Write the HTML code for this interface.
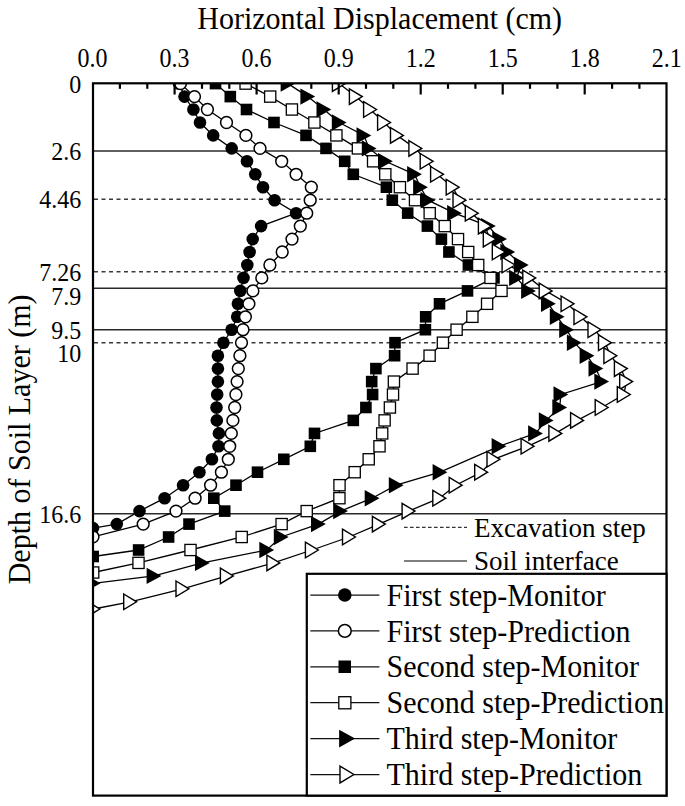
<!DOCTYPE html><html><head><meta charset="utf-8"><style>html,body{margin:0;padding:0;background:#fff;}svg{display:block;}text{font-family:"Liberation Serif",serif;fill:#000;}</style></head><body>
<svg width="685" height="806" viewBox="0 0 685 806">
<rect width="685" height="806" fill="#fff"/>
<defs><clipPath id="pc"><rect x="93" y="83.6" width="573.5" height="712"/></clipPath></defs>
<text transform="translate(379.7,28.8) scale(1,1.045)" font-size="30" text-anchor="middle">Horizontal Displacement (cm)</text>
<text transform="translate(92.6,66.7) scale(1,1.12)" font-size="24" text-anchor="middle">0.0</text>
<text transform="translate(174.6,66.7) scale(1,1.12)" font-size="24" text-anchor="middle">0.3</text>
<text transform="translate(256.6,66.7) scale(1,1.12)" font-size="24" text-anchor="middle">0.6</text>
<text transform="translate(338.7,66.7) scale(1,1.12)" font-size="24" text-anchor="middle">0.9</text>
<text transform="translate(420.7,66.7) scale(1,1.12)" font-size="24" text-anchor="middle">1.2</text>
<text transform="translate(502.7,66.7) scale(1,1.12)" font-size="24" text-anchor="middle">1.5</text>
<text transform="translate(584.7,66.7) scale(1,1.12)" font-size="24" text-anchor="middle">1.8</text>
<text transform="translate(666.7,66.7) scale(1,1.12)" font-size="24" text-anchor="middle">2.1</text>
<text transform="translate(81.3,92.5) scale(1,1.08)" font-size="24" text-anchor="end">0</text>
<text transform="translate(81.3,159.9) scale(1,1.08)" font-size="24" text-anchor="end">2.6</text>
<text transform="translate(81.3,208.1) scale(1,1.08)" font-size="24" text-anchor="end">4.46</text>
<text transform="translate(81.3,280.8) scale(1,1.08)" font-size="24" text-anchor="end">7.26</text>
<text transform="translate(81.3,305.2) scale(1,1.08)" font-size="24" text-anchor="end">7.9</text>
<text transform="translate(81.3,338.9) scale(1,1.08)" font-size="24" text-anchor="end">9.5</text>
<text transform="translate(81.3,361.7) scale(1,1.08)" font-size="24" text-anchor="end">10</text>
<text transform="translate(81.3,522.6) scale(1,1.08)" font-size="24" text-anchor="end">16.6</text>
<text transform="translate(30.2,439.4) rotate(-90) scale(1,1.02)" font-size="30" text-anchor="middle">Depth of Soil Layer (m)</text>
<line x1="94" y1="151.0" x2="666" y2="151.0" stroke="#2a2a2a" stroke-width="1.6"/>
<line x1="94" y1="199.2" x2="666" y2="199.2" stroke="#3a3a3a" stroke-width="1.6" stroke-dasharray="4,3.5"/>
<line x1="94" y1="271.7" x2="666" y2="271.7" stroke="#3a3a3a" stroke-width="1.6" stroke-dasharray="4,3.5"/>
<line x1="94" y1="288.3" x2="666" y2="288.3" stroke="#2a2a2a" stroke-width="1.6"/>
<line x1="94" y1="329.7" x2="666" y2="329.7" stroke="#2a2a2a" stroke-width="1.6"/>
<line x1="94" y1="342.7" x2="666" y2="342.7" stroke="#3a3a3a" stroke-width="1.6" stroke-dasharray="4,3.5"/>
<line x1="94" y1="513.7" x2="666" y2="513.7" stroke="#2a2a2a" stroke-width="1.6"/>
<g clip-path="url(#pc)">
<polyline fill="none" stroke="#000" stroke-width="1.3" points="179.0,83.6 184.5,96.6 193.4,109.5 200.0,122.5 213.2,135.4 231.7,148.4 247.0,161.3 255.3,174.3 263.0,187.2 274.6,200.2 296.1,213.2 261.1,226.1 252.7,239.1 249.6,252.0 247.3,265.0 243.5,277.9 240.3,290.9 237.9,303.8 237.2,316.8 231.6,329.7 223.4,342.7 217.9,355.7 217.9,368.6 217.9,381.6 217.2,394.5 216.5,407.5 216.8,420.4 218.9,433.4 218.5,446.3 211.9,459.3 199.4,472.2 183.1,485.2 164.6,498.2 139.5,511.1 116.8,524.1 93.0,528.1"/>
<circle cx="179.0" cy="83.6" r="6.30" fill="#000"/>
<circle cx="184.5" cy="96.6" r="6.30" fill="#000"/>
<circle cx="193.4" cy="109.5" r="6.30" fill="#000"/>
<circle cx="200.0" cy="122.5" r="6.30" fill="#000"/>
<circle cx="213.2" cy="135.4" r="6.30" fill="#000"/>
<circle cx="231.7" cy="148.4" r="6.30" fill="#000"/>
<circle cx="247.0" cy="161.3" r="6.30" fill="#000"/>
<circle cx="255.3" cy="174.3" r="6.30" fill="#000"/>
<circle cx="263.0" cy="187.2" r="6.30" fill="#000"/>
<circle cx="274.6" cy="200.2" r="6.30" fill="#000"/>
<circle cx="296.1" cy="213.2" r="6.30" fill="#000"/>
<circle cx="261.1" cy="226.1" r="6.30" fill="#000"/>
<circle cx="252.7" cy="239.1" r="6.30" fill="#000"/>
<circle cx="249.6" cy="252.0" r="6.30" fill="#000"/>
<circle cx="247.3" cy="265.0" r="6.30" fill="#000"/>
<circle cx="243.5" cy="277.9" r="6.30" fill="#000"/>
<circle cx="240.3" cy="290.9" r="6.30" fill="#000"/>
<circle cx="237.9" cy="303.8" r="6.30" fill="#000"/>
<circle cx="237.2" cy="316.8" r="6.30" fill="#000"/>
<circle cx="231.6" cy="329.7" r="6.30" fill="#000"/>
<circle cx="223.4" cy="342.7" r="6.30" fill="#000"/>
<circle cx="217.9" cy="355.7" r="6.30" fill="#000"/>
<circle cx="217.9" cy="368.6" r="6.30" fill="#000"/>
<circle cx="217.9" cy="381.6" r="6.30" fill="#000"/>
<circle cx="217.2" cy="394.5" r="6.30" fill="#000"/>
<circle cx="216.5" cy="407.5" r="6.30" fill="#000"/>
<circle cx="216.8" cy="420.4" r="6.30" fill="#000"/>
<circle cx="218.9" cy="433.4" r="6.30" fill="#000"/>
<circle cx="218.5" cy="446.3" r="6.30" fill="#000"/>
<circle cx="211.9" cy="459.3" r="6.30" fill="#000"/>
<circle cx="199.4" cy="472.2" r="6.30" fill="#000"/>
<circle cx="183.1" cy="485.2" r="6.30" fill="#000"/>
<circle cx="164.6" cy="498.2" r="6.30" fill="#000"/>
<circle cx="139.5" cy="511.1" r="6.30" fill="#000"/>
<circle cx="116.8" cy="524.1" r="6.30" fill="#000"/>
<circle cx="93.0" cy="528.1" r="6.30" fill="#000"/>
<polyline fill="none" stroke="#000" stroke-width="1.3" points="180.5,83.6 194.5,96.6 207.4,109.5 226.5,122.5 245.9,135.4 260.0,148.4 281.7,161.3 296.1,174.3 311.3,187.2 310.2,200.2 306.7,213.2 300.3,226.1 292.0,239.1 282.2,252.0 269.9,265.0 261.8,277.9 252.9,290.9 248.9,303.8 245.4,316.8 243.0,329.7 241.5,342.7 239.9,355.7 238.3,368.6 237.1,381.6 235.9,394.5 234.7,407.5 232.9,420.4 231.3,433.4 229.7,446.3 228.3,459.3 221.4,472.2 210.6,485.2 195.1,498.2 176.0,511.1 143.2,524.1 93.0,536.8"/>
<circle cx="180.5" cy="83.6" r="5.90" fill="#fff" stroke="#000" stroke-width="1.5"/>
<circle cx="194.5" cy="96.6" r="5.90" fill="#fff" stroke="#000" stroke-width="1.5"/>
<circle cx="207.4" cy="109.5" r="5.90" fill="#fff" stroke="#000" stroke-width="1.5"/>
<circle cx="226.5" cy="122.5" r="5.90" fill="#fff" stroke="#000" stroke-width="1.5"/>
<circle cx="245.9" cy="135.4" r="5.90" fill="#fff" stroke="#000" stroke-width="1.5"/>
<circle cx="260.0" cy="148.4" r="5.90" fill="#fff" stroke="#000" stroke-width="1.5"/>
<circle cx="281.7" cy="161.3" r="5.90" fill="#fff" stroke="#000" stroke-width="1.5"/>
<circle cx="296.1" cy="174.3" r="5.90" fill="#fff" stroke="#000" stroke-width="1.5"/>
<circle cx="311.3" cy="187.2" r="5.90" fill="#fff" stroke="#000" stroke-width="1.5"/>
<circle cx="310.2" cy="200.2" r="5.90" fill="#fff" stroke="#000" stroke-width="1.5"/>
<circle cx="306.7" cy="213.2" r="5.90" fill="#fff" stroke="#000" stroke-width="1.5"/>
<circle cx="300.3" cy="226.1" r="5.90" fill="#fff" stroke="#000" stroke-width="1.5"/>
<circle cx="292.0" cy="239.1" r="5.90" fill="#fff" stroke="#000" stroke-width="1.5"/>
<circle cx="282.2" cy="252.0" r="5.90" fill="#fff" stroke="#000" stroke-width="1.5"/>
<circle cx="269.9" cy="265.0" r="5.90" fill="#fff" stroke="#000" stroke-width="1.5"/>
<circle cx="261.8" cy="277.9" r="5.90" fill="#fff" stroke="#000" stroke-width="1.5"/>
<circle cx="252.9" cy="290.9" r="5.90" fill="#fff" stroke="#000" stroke-width="1.5"/>
<circle cx="248.9" cy="303.8" r="5.90" fill="#fff" stroke="#000" stroke-width="1.5"/>
<circle cx="245.4" cy="316.8" r="5.90" fill="#fff" stroke="#000" stroke-width="1.5"/>
<circle cx="243.0" cy="329.7" r="5.90" fill="#fff" stroke="#000" stroke-width="1.5"/>
<circle cx="241.5" cy="342.7" r="5.90" fill="#fff" stroke="#000" stroke-width="1.5"/>
<circle cx="239.9" cy="355.7" r="5.90" fill="#fff" stroke="#000" stroke-width="1.5"/>
<circle cx="238.3" cy="368.6" r="5.90" fill="#fff" stroke="#000" stroke-width="1.5"/>
<circle cx="237.1" cy="381.6" r="5.90" fill="#fff" stroke="#000" stroke-width="1.5"/>
<circle cx="235.9" cy="394.5" r="5.90" fill="#fff" stroke="#000" stroke-width="1.5"/>
<circle cx="234.7" cy="407.5" r="5.90" fill="#fff" stroke="#000" stroke-width="1.5"/>
<circle cx="232.9" cy="420.4" r="5.90" fill="#fff" stroke="#000" stroke-width="1.5"/>
<circle cx="231.3" cy="433.4" r="5.90" fill="#fff" stroke="#000" stroke-width="1.5"/>
<circle cx="229.7" cy="446.3" r="5.90" fill="#fff" stroke="#000" stroke-width="1.5"/>
<circle cx="228.3" cy="459.3" r="5.90" fill="#fff" stroke="#000" stroke-width="1.5"/>
<circle cx="221.4" cy="472.2" r="5.90" fill="#fff" stroke="#000" stroke-width="1.5"/>
<circle cx="210.6" cy="485.2" r="5.90" fill="#fff" stroke="#000" stroke-width="1.5"/>
<circle cx="195.1" cy="498.2" r="5.90" fill="#fff" stroke="#000" stroke-width="1.5"/>
<circle cx="176.0" cy="511.1" r="5.90" fill="#fff" stroke="#000" stroke-width="1.5"/>
<circle cx="143.2" cy="524.1" r="5.90" fill="#fff" stroke="#000" stroke-width="1.5"/>
<circle cx="93.0" cy="536.8" r="5.90" fill="#fff" stroke="#000" stroke-width="1.5"/>
<polyline fill="none" stroke="#000" stroke-width="1.3" points="215.5,83.6 230.3,96.6 246.5,109.5 274.0,122.5 306.0,135.4 326.0,148.4 344.7,161.3 353.3,174.3 386.4,187.2 392.3,200.2 407.7,213.2 427.4,226.1 441.4,239.1 448.9,252.0 468.4,265.0 494.0,277.9 467.5,290.9 439.5,303.8 425.7,316.8 425.4,329.7 395.0,342.7 394.6,355.7 375.9,368.6 371.7,381.6 372.6,394.5 365.9,407.5 353.3,420.4 314.5,433.4 310.3,446.3 283.8,459.3 257.5,472.2 236.0,485.2 213.8,498.2 224.7,511.1 189.0,524.1 168.6,537.0 138.6,550.0 93.2,556.5"/>
<rect x="209.7" y="77.8" width="11.6" height="11.6" fill="#000"/>
<rect x="224.5" y="90.8" width="11.6" height="11.6" fill="#000"/>
<rect x="240.7" y="103.7" width="11.6" height="11.6" fill="#000"/>
<rect x="268.2" y="116.7" width="11.6" height="11.6" fill="#000"/>
<rect x="300.2" y="129.6" width="11.6" height="11.6" fill="#000"/>
<rect x="320.2" y="142.6" width="11.6" height="11.6" fill="#000"/>
<rect x="338.9" y="155.5" width="11.6" height="11.6" fill="#000"/>
<rect x="347.5" y="168.5" width="11.6" height="11.6" fill="#000"/>
<rect x="380.6" y="181.4" width="11.6" height="11.6" fill="#000"/>
<rect x="386.5" y="194.4" width="11.6" height="11.6" fill="#000"/>
<rect x="401.9" y="207.3" width="11.6" height="11.6" fill="#000"/>
<rect x="421.6" y="220.3" width="11.6" height="11.6" fill="#000"/>
<rect x="435.6" y="233.3" width="11.6" height="11.6" fill="#000"/>
<rect x="443.1" y="246.2" width="11.6" height="11.6" fill="#000"/>
<rect x="462.6" y="259.2" width="11.6" height="11.6" fill="#000"/>
<rect x="488.2" y="272.1" width="11.6" height="11.6" fill="#000"/>
<rect x="461.7" y="285.1" width="11.6" height="11.6" fill="#000"/>
<rect x="433.7" y="298.0" width="11.6" height="11.6" fill="#000"/>
<rect x="419.9" y="311.0" width="11.6" height="11.6" fill="#000"/>
<rect x="419.6" y="323.9" width="11.6" height="11.6" fill="#000"/>
<rect x="389.2" y="336.9" width="11.6" height="11.6" fill="#000"/>
<rect x="388.8" y="349.9" width="11.6" height="11.6" fill="#000"/>
<rect x="370.1" y="362.8" width="11.6" height="11.6" fill="#000"/>
<rect x="365.9" y="375.8" width="11.6" height="11.6" fill="#000"/>
<rect x="366.8" y="388.7" width="11.6" height="11.6" fill="#000"/>
<rect x="360.1" y="401.7" width="11.6" height="11.6" fill="#000"/>
<rect x="347.5" y="414.6" width="11.6" height="11.6" fill="#000"/>
<rect x="308.7" y="427.6" width="11.6" height="11.6" fill="#000"/>
<rect x="304.5" y="440.5" width="11.6" height="11.6" fill="#000"/>
<rect x="278.0" y="453.5" width="11.6" height="11.6" fill="#000"/>
<rect x="251.7" y="466.4" width="11.6" height="11.6" fill="#000"/>
<rect x="230.2" y="479.4" width="11.6" height="11.6" fill="#000"/>
<rect x="208.0" y="492.4" width="11.6" height="11.6" fill="#000"/>
<rect x="218.9" y="505.3" width="11.6" height="11.6" fill="#000"/>
<rect x="183.2" y="518.3" width="11.6" height="11.6" fill="#000"/>
<rect x="162.8" y="531.2" width="11.6" height="11.6" fill="#000"/>
<rect x="132.8" y="544.2" width="11.6" height="11.6" fill="#000"/>
<rect x="87.4" y="550.7" width="11.6" height="11.6" fill="#000"/>
<polyline fill="none" stroke="#000" stroke-width="1.3" points="245.6,83.6 270.2,96.6 291.9,109.5 314.4,122.5 336.4,135.4 357.9,148.4 373.1,161.3 385.3,174.3 399.9,187.2 415.0,200.2 429.7,213.2 444.8,226.1 458.0,239.1 468.2,252.0 478.2,265.0 490.5,277.9 501.5,290.9 487.1,303.8 472.4,316.8 456.6,329.7 442.9,342.7 429.6,355.7 412.6,368.6 393.9,381.6 393.0,394.5 389.9,407.5 384.6,420.4 382.2,433.4 379.5,446.3 368.7,459.3 354.7,472.2 339.5,485.2 339.4,498.2 306.7,511.1 281.6,524.1 241.7,537.0 190.5,550.0 138.5,562.9 93.2,572.5"/>
<rect x="240.0" y="78.0" width="11.2" height="11.2" fill="#fff" stroke="#000" stroke-width="1.3"/>
<rect x="264.6" y="91.0" width="11.2" height="11.2" fill="#fff" stroke="#000" stroke-width="1.3"/>
<rect x="286.3" y="103.9" width="11.2" height="11.2" fill="#fff" stroke="#000" stroke-width="1.3"/>
<rect x="308.8" y="116.9" width="11.2" height="11.2" fill="#fff" stroke="#000" stroke-width="1.3"/>
<rect x="330.8" y="129.8" width="11.2" height="11.2" fill="#fff" stroke="#000" stroke-width="1.3"/>
<rect x="352.3" y="142.8" width="11.2" height="11.2" fill="#fff" stroke="#000" stroke-width="1.3"/>
<rect x="367.5" y="155.7" width="11.2" height="11.2" fill="#fff" stroke="#000" stroke-width="1.3"/>
<rect x="379.7" y="168.7" width="11.2" height="11.2" fill="#fff" stroke="#000" stroke-width="1.3"/>
<rect x="394.3" y="181.6" width="11.2" height="11.2" fill="#fff" stroke="#000" stroke-width="1.3"/>
<rect x="409.4" y="194.6" width="11.2" height="11.2" fill="#fff" stroke="#000" stroke-width="1.3"/>
<rect x="424.1" y="207.6" width="11.2" height="11.2" fill="#fff" stroke="#000" stroke-width="1.3"/>
<rect x="439.2" y="220.5" width="11.2" height="11.2" fill="#fff" stroke="#000" stroke-width="1.3"/>
<rect x="452.4" y="233.5" width="11.2" height="11.2" fill="#fff" stroke="#000" stroke-width="1.3"/>
<rect x="462.6" y="246.4" width="11.2" height="11.2" fill="#fff" stroke="#000" stroke-width="1.3"/>
<rect x="472.6" y="259.4" width="11.2" height="11.2" fill="#fff" stroke="#000" stroke-width="1.3"/>
<rect x="484.9" y="272.3" width="11.2" height="11.2" fill="#fff" stroke="#000" stroke-width="1.3"/>
<rect x="495.9" y="285.3" width="11.2" height="11.2" fill="#fff" stroke="#000" stroke-width="1.3"/>
<rect x="481.5" y="298.2" width="11.2" height="11.2" fill="#fff" stroke="#000" stroke-width="1.3"/>
<rect x="466.8" y="311.2" width="11.2" height="11.2" fill="#fff" stroke="#000" stroke-width="1.3"/>
<rect x="451.0" y="324.1" width="11.2" height="11.2" fill="#fff" stroke="#000" stroke-width="1.3"/>
<rect x="437.3" y="337.1" width="11.2" height="11.2" fill="#fff" stroke="#000" stroke-width="1.3"/>
<rect x="424.0" y="350.1" width="11.2" height="11.2" fill="#fff" stroke="#000" stroke-width="1.3"/>
<rect x="407.0" y="363.0" width="11.2" height="11.2" fill="#fff" stroke="#000" stroke-width="1.3"/>
<rect x="388.3" y="376.0" width="11.2" height="11.2" fill="#fff" stroke="#000" stroke-width="1.3"/>
<rect x="387.4" y="388.9" width="11.2" height="11.2" fill="#fff" stroke="#000" stroke-width="1.3"/>
<rect x="384.3" y="401.9" width="11.2" height="11.2" fill="#fff" stroke="#000" stroke-width="1.3"/>
<rect x="379.0" y="414.8" width="11.2" height="11.2" fill="#fff" stroke="#000" stroke-width="1.3"/>
<rect x="376.6" y="427.8" width="11.2" height="11.2" fill="#fff" stroke="#000" stroke-width="1.3"/>
<rect x="373.9" y="440.7" width="11.2" height="11.2" fill="#fff" stroke="#000" stroke-width="1.3"/>
<rect x="363.1" y="453.7" width="11.2" height="11.2" fill="#fff" stroke="#000" stroke-width="1.3"/>
<rect x="349.1" y="466.6" width="11.2" height="11.2" fill="#fff" stroke="#000" stroke-width="1.3"/>
<rect x="333.9" y="479.6" width="11.2" height="11.2" fill="#fff" stroke="#000" stroke-width="1.3"/>
<rect x="333.8" y="492.6" width="11.2" height="11.2" fill="#fff" stroke="#000" stroke-width="1.3"/>
<rect x="301.1" y="505.5" width="11.2" height="11.2" fill="#fff" stroke="#000" stroke-width="1.3"/>
<rect x="276.0" y="518.5" width="11.2" height="11.2" fill="#fff" stroke="#000" stroke-width="1.3"/>
<rect x="236.1" y="531.4" width="11.2" height="11.2" fill="#fff" stroke="#000" stroke-width="1.3"/>
<rect x="184.9" y="544.4" width="11.2" height="11.2" fill="#fff" stroke="#000" stroke-width="1.3"/>
<rect x="132.9" y="557.3" width="11.2" height="11.2" fill="#fff" stroke="#000" stroke-width="1.3"/>
<rect x="87.6" y="566.9" width="11.2" height="11.2" fill="#fff" stroke="#000" stroke-width="1.3"/>
<polyline fill="none" stroke="#000" stroke-width="1.3" points="288.0,83.6 307.8,96.6 323.9,109.5 339.2,122.5 363.9,135.4 369.2,148.4 385.4,161.3 414.5,174.3 420.5,187.2 428.0,200.2 454.5,213.2 488.4,226.1 499.6,239.1 507.7,252.0 521.3,265.0 516.5,277.9 528.5,290.9 548.4,303.8 557.2,316.8 566.6,329.7 574.3,342.7 587.0,355.7 595.9,368.6 601.7,381.6 560.9,394.5 559.7,407.5 546.2,420.4 535.5,433.4 499.0,446.3 440.0,472.2 396.2,485.2 372.1,498.2 340.6,511.1 318.4,524.1 281.2,537.0 266.7,550.0 202.4,562.9 154.0,575.9 93.2,583.3"/>
<path d="M280.6,75.4L295.4,83.6L280.6,91.8Z" fill="#000"/>
<path d="M300.4,88.4L315.2,96.6L300.4,104.8Z" fill="#000"/>
<path d="M316.5,101.3L331.3,109.5L316.5,117.7Z" fill="#000"/>
<path d="M331.8,114.3L346.6,122.5L331.8,130.7Z" fill="#000"/>
<path d="M356.5,127.2L371.3,135.4L356.5,143.6Z" fill="#000"/>
<path d="M361.8,140.2L376.6,148.4L361.8,156.6Z" fill="#000"/>
<path d="M378.0,153.1L392.8,161.3L378.0,169.5Z" fill="#000"/>
<path d="M407.1,166.1L421.9,174.3L407.1,182.5Z" fill="#000"/>
<path d="M413.1,179.0L427.9,187.2L413.1,195.4Z" fill="#000"/>
<path d="M420.6,192.0L435.4,200.2L420.6,208.4Z" fill="#000"/>
<path d="M447.1,205.0L461.9,213.2L447.1,221.3Z" fill="#000"/>
<path d="M481.0,217.9L495.8,226.1L481.0,234.3Z" fill="#000"/>
<path d="M492.2,230.9L507.0,239.1L492.2,247.3Z" fill="#000"/>
<path d="M500.3,243.8L515.1,252.0L500.3,260.2Z" fill="#000"/>
<path d="M513.9,256.8L528.7,265.0L513.9,273.2Z" fill="#000"/>
<path d="M509.1,269.7L523.9,277.9L509.1,286.1Z" fill="#000"/>
<path d="M521.1,282.7L535.9,290.9L521.1,299.1Z" fill="#000"/>
<path d="M541.0,295.6L555.8,303.8L541.0,312.0Z" fill="#000"/>
<path d="M549.8,308.6L564.6,316.8L549.8,325.0Z" fill="#000"/>
<path d="M559.2,321.5L574.0,329.7L559.2,337.9Z" fill="#000"/>
<path d="M566.9,334.5L581.7,342.7L566.9,350.9Z" fill="#000"/>
<path d="M579.6,347.5L594.4,355.7L579.6,363.9Z" fill="#000"/>
<path d="M588.5,360.4L603.3,368.6L588.5,376.8Z" fill="#000"/>
<path d="M594.3,373.4L609.1,381.6L594.3,389.8Z" fill="#000"/>
<path d="M553.5,386.3L568.3,394.5L553.5,402.7Z" fill="#000"/>
<path d="M552.3,399.3L567.1,407.5L552.3,415.7Z" fill="#000"/>
<path d="M538.8,412.2L553.6,420.4L538.8,428.6Z" fill="#000"/>
<path d="M528.1,425.2L542.9,433.4L528.1,441.6Z" fill="#000"/>
<path d="M491.6,438.1L506.4,446.3L491.6,454.5Z" fill="#000"/>
<path d="M432.6,464.1L447.4,472.2L432.6,480.4Z" fill="#000"/>
<path d="M388.8,477.0L403.6,485.2L388.8,493.4Z" fill="#000"/>
<path d="M364.7,490.0L379.5,498.2L364.7,506.4Z" fill="#000"/>
<path d="M333.2,502.9L348.0,511.1L333.2,519.3Z" fill="#000"/>
<path d="M311.0,515.9L325.8,524.1L311.0,532.3Z" fill="#000"/>
<path d="M273.8,528.8L288.6,537.0L273.8,545.2Z" fill="#000"/>
<path d="M259.3,541.8L274.1,550.0L259.3,558.2Z" fill="#000"/>
<path d="M195.0,554.7L209.8,562.9L195.0,571.1Z" fill="#000"/>
<path d="M146.6,567.7L161.4,575.9L146.6,584.1Z" fill="#000"/>
<path d="M85.8,575.1L100.6,583.3L85.8,591.5Z" fill="#000"/>
<polyline fill="none" stroke="#000" stroke-width="1.3" points="339.0,83.6 356.0,96.6 370.2,109.5 384.2,122.5 397.1,135.4 415.5,148.4 426.8,161.3 437.2,174.3 452.8,187.2 459.6,200.2 471.9,213.2 485.0,226.1 489.9,239.1 498.9,252.0 508.7,265.0 529.4,277.9 545.8,290.9 567.7,303.8 580.6,316.8 594.6,329.7 605.1,342.7 610.5,355.7 621.0,368.6 626.3,381.6 623.9,394.5 601.8,407.5 577.2,420.4 555.5,433.4 527.7,446.3 493.6,459.3 481.3,472.2 455.8,485.2 439.4,498.2 408.7,511.1 379.0,524.1 349.1,537.0 312.0,550.0 273.5,562.9 227.0,575.9 182.6,588.8 130.3,601.8 93.5,609.0"/>
<path d="M332.4,75.8L345.3,83.6L332.4,91.4Z" fill="#fff" stroke="#000" stroke-width="1.4" stroke-linejoin="miter"/>
<path d="M349.4,88.8L362.3,96.6L349.4,104.4Z" fill="#fff" stroke="#000" stroke-width="1.4" stroke-linejoin="miter"/>
<path d="M363.6,101.7L376.5,109.5L363.6,117.3Z" fill="#fff" stroke="#000" stroke-width="1.4" stroke-linejoin="miter"/>
<path d="M377.6,114.7L390.5,122.5L377.6,130.3Z" fill="#fff" stroke="#000" stroke-width="1.4" stroke-linejoin="miter"/>
<path d="M390.5,127.6L403.4,135.4L390.5,143.2Z" fill="#fff" stroke="#000" stroke-width="1.4" stroke-linejoin="miter"/>
<path d="M408.9,140.6L421.8,148.4L408.9,156.2Z" fill="#fff" stroke="#000" stroke-width="1.4" stroke-linejoin="miter"/>
<path d="M420.2,153.5L433.1,161.3L420.2,169.1Z" fill="#fff" stroke="#000" stroke-width="1.4" stroke-linejoin="miter"/>
<path d="M430.6,166.5L443.5,174.3L430.6,182.1Z" fill="#fff" stroke="#000" stroke-width="1.4" stroke-linejoin="miter"/>
<path d="M446.2,179.4L459.1,187.2L446.2,195.0Z" fill="#fff" stroke="#000" stroke-width="1.4" stroke-linejoin="miter"/>
<path d="M453.0,192.4L465.9,200.2L453.0,208.0Z" fill="#fff" stroke="#000" stroke-width="1.4" stroke-linejoin="miter"/>
<path d="M465.3,205.3L478.2,213.2L465.3,221.0Z" fill="#fff" stroke="#000" stroke-width="1.4" stroke-linejoin="miter"/>
<path d="M478.4,218.3L491.3,226.1L478.4,233.9Z" fill="#fff" stroke="#000" stroke-width="1.4" stroke-linejoin="miter"/>
<path d="M483.3,231.3L496.2,239.1L483.3,246.9Z" fill="#fff" stroke="#000" stroke-width="1.4" stroke-linejoin="miter"/>
<path d="M492.3,244.2L505.2,252.0L492.3,259.8Z" fill="#fff" stroke="#000" stroke-width="1.4" stroke-linejoin="miter"/>
<path d="M502.1,257.2L515.0,265.0L502.1,272.8Z" fill="#fff" stroke="#000" stroke-width="1.4" stroke-linejoin="miter"/>
<path d="M522.8,270.1L535.7,277.9L522.8,285.7Z" fill="#fff" stroke="#000" stroke-width="1.4" stroke-linejoin="miter"/>
<path d="M539.2,283.1L552.1,290.9L539.2,298.7Z" fill="#fff" stroke="#000" stroke-width="1.4" stroke-linejoin="miter"/>
<path d="M561.1,296.0L574.0,303.8L561.1,311.6Z" fill="#fff" stroke="#000" stroke-width="1.4" stroke-linejoin="miter"/>
<path d="M574.0,309.0L586.9,316.8L574.0,324.6Z" fill="#fff" stroke="#000" stroke-width="1.4" stroke-linejoin="miter"/>
<path d="M588.0,321.9L600.9,329.7L588.0,337.5Z" fill="#fff" stroke="#000" stroke-width="1.4" stroke-linejoin="miter"/>
<path d="M598.5,334.9L611.4,342.7L598.5,350.5Z" fill="#fff" stroke="#000" stroke-width="1.4" stroke-linejoin="miter"/>
<path d="M603.9,347.9L616.8,355.7L603.9,363.5Z" fill="#fff" stroke="#000" stroke-width="1.4" stroke-linejoin="miter"/>
<path d="M614.4,360.8L627.3,368.6L614.4,376.4Z" fill="#fff" stroke="#000" stroke-width="1.4" stroke-linejoin="miter"/>
<path d="M619.7,373.8L632.6,381.6L619.7,389.4Z" fill="#fff" stroke="#000" stroke-width="1.4" stroke-linejoin="miter"/>
<path d="M617.3,386.7L630.2,394.5L617.3,402.3Z" fill="#fff" stroke="#000" stroke-width="1.4" stroke-linejoin="miter"/>
<path d="M595.2,399.7L608.1,407.5L595.2,415.3Z" fill="#fff" stroke="#000" stroke-width="1.4" stroke-linejoin="miter"/>
<path d="M570.6,412.6L583.5,420.4L570.6,428.2Z" fill="#fff" stroke="#000" stroke-width="1.4" stroke-linejoin="miter"/>
<path d="M548.9,425.6L561.8,433.4L548.9,441.2Z" fill="#fff" stroke="#000" stroke-width="1.4" stroke-linejoin="miter"/>
<path d="M521.1,438.5L534.0,446.3L521.1,454.1Z" fill="#fff" stroke="#000" stroke-width="1.4" stroke-linejoin="miter"/>
<path d="M487.0,451.5L499.9,459.3L487.0,467.1Z" fill="#fff" stroke="#000" stroke-width="1.4" stroke-linejoin="miter"/>
<path d="M474.7,464.4L487.6,472.2L474.7,480.1Z" fill="#fff" stroke="#000" stroke-width="1.4" stroke-linejoin="miter"/>
<path d="M449.2,477.4L462.1,485.2L449.2,493.0Z" fill="#fff" stroke="#000" stroke-width="1.4" stroke-linejoin="miter"/>
<path d="M432.8,490.4L445.7,498.2L432.8,506.0Z" fill="#fff" stroke="#000" stroke-width="1.4" stroke-linejoin="miter"/>
<path d="M402.1,503.3L415.0,511.1L402.1,518.9Z" fill="#fff" stroke="#000" stroke-width="1.4" stroke-linejoin="miter"/>
<path d="M372.4,516.3L385.3,524.1L372.4,531.9Z" fill="#fff" stroke="#000" stroke-width="1.4" stroke-linejoin="miter"/>
<path d="M342.5,529.2L355.4,537.0L342.5,544.8Z" fill="#fff" stroke="#000" stroke-width="1.4" stroke-linejoin="miter"/>
<path d="M305.4,542.2L318.3,550.0L305.4,557.8Z" fill="#fff" stroke="#000" stroke-width="1.4" stroke-linejoin="miter"/>
<path d="M266.9,555.1L279.8,562.9L266.9,570.7Z" fill="#fff" stroke="#000" stroke-width="1.4" stroke-linejoin="miter"/>
<path d="M220.4,568.1L233.3,575.9L220.4,583.7Z" fill="#fff" stroke="#000" stroke-width="1.4" stroke-linejoin="miter"/>
<path d="M176.0,581.0L188.9,588.8L176.0,596.6Z" fill="#fff" stroke="#000" stroke-width="1.4" stroke-linejoin="miter"/>
<path d="M123.7,594.0L136.6,601.8L123.7,609.6Z" fill="#fff" stroke="#000" stroke-width="1.4" stroke-linejoin="miter"/>
<path d="M86.9,601.2L99.8,609.0L86.9,616.8Z" fill="#fff" stroke="#000" stroke-width="1.4" stroke-linejoin="miter"/>
</g>
<line x1="119.9" y1="83" x2="119.9" y2="88.8" stroke="#000" stroke-width="2.2"/>
<line x1="147.3" y1="83" x2="147.3" y2="88.8" stroke="#000" stroke-width="2.2"/>
<line x1="174.6" y1="83" x2="174.6" y2="94.5" stroke="#000" stroke-width="2.2"/>
<line x1="202.0" y1="83" x2="202.0" y2="88.8" stroke="#000" stroke-width="2.2"/>
<line x1="229.3" y1="83" x2="229.3" y2="88.8" stroke="#000" stroke-width="2.2"/>
<line x1="256.6" y1="83" x2="256.6" y2="94.5" stroke="#000" stroke-width="2.2"/>
<line x1="284.0" y1="83" x2="284.0" y2="88.8" stroke="#000" stroke-width="2.2"/>
<line x1="311.3" y1="83" x2="311.3" y2="88.8" stroke="#000" stroke-width="2.2"/>
<line x1="338.7" y1="83" x2="338.7" y2="94.5" stroke="#000" stroke-width="2.2"/>
<line x1="366.0" y1="83" x2="366.0" y2="88.8" stroke="#000" stroke-width="2.2"/>
<line x1="393.3" y1="83" x2="393.3" y2="88.8" stroke="#000" stroke-width="2.2"/>
<line x1="420.7" y1="83" x2="420.7" y2="94.5" stroke="#000" stroke-width="2.2"/>
<line x1="448.0" y1="83" x2="448.0" y2="88.8" stroke="#000" stroke-width="2.2"/>
<line x1="475.4" y1="83" x2="475.4" y2="88.8" stroke="#000" stroke-width="2.2"/>
<line x1="502.7" y1="83" x2="502.7" y2="94.5" stroke="#000" stroke-width="2.2"/>
<line x1="530.0" y1="83" x2="530.0" y2="88.8" stroke="#000" stroke-width="2.2"/>
<line x1="557.4" y1="83" x2="557.4" y2="88.8" stroke="#000" stroke-width="2.2"/>
<line x1="584.7" y1="83" x2="584.7" y2="94.5" stroke="#000" stroke-width="2.2"/>
<line x1="612.1" y1="83" x2="612.1" y2="88.8" stroke="#000" stroke-width="2.2"/>
<line x1="639.4" y1="83" x2="639.4" y2="88.8" stroke="#000" stroke-width="2.2"/>
<rect x="93" y="83.3" width="573.5" height="712.3" fill="none" stroke="#000" stroke-width="2.2"/>
<line x1="404" y1="527.3" x2="467" y2="527.3" stroke="#000" stroke-width="1" stroke-dasharray="3.6,2.4"/>
<line x1="404" y1="561" x2="467" y2="561" stroke="#000" stroke-width="1.2"/>
<text transform="translate(474,536.6) scale(1,1.0)" font-size="27">Excavation step</text>
<text transform="translate(474,570.3) scale(1,1.0)" font-size="27">Soil interface</text>
<rect x="306.8" y="573.8" width="359.7" height="221.8" fill="#fff" stroke="#000" stroke-width="2.2"/>
<line x1="310.3" y1="595.0" x2="379.4" y2="595.0" stroke="#111" stroke-width="1.25"/>
<circle cx="344.8" cy="595.0" r="6.80" fill="#000"/>
<text transform="translate(386.5,605.9) scale(1,1.02)" font-size="30">First step-Monitor</text>
<line x1="310.3" y1="630.9" x2="379.4" y2="630.9" stroke="#111" stroke-width="1.25"/>
<circle cx="344.8" cy="630.9" r="6.37" fill="#fff" stroke="#000" stroke-width="1.5"/>
<text transform="translate(386.5,641.6) scale(1,1.02)" font-size="30">First step-Prediction</text>
<line x1="310.3" y1="666.8" x2="379.4" y2="666.8" stroke="#111" stroke-width="1.25"/>
<rect x="338.5" y="660.5" width="12.5" height="12.5" fill="#000"/>
<text transform="translate(386.5,677.3) scale(1,1.02)" font-size="30">Second step-Monitor</text>
<line x1="310.3" y1="702.7" x2="379.4" y2="702.7" stroke="#111" stroke-width="1.25"/>
<rect x="338.8" y="696.7" width="12.1" height="12.1" fill="#fff" stroke="#000" stroke-width="1.3"/>
<text transform="translate(386.5,713.1) scale(1,1.02)" font-size="30">Second step-Prediction</text>
<line x1="310.3" y1="738.6" x2="379.4" y2="738.6" stroke="#111" stroke-width="1.25"/>
<path d="M339.1,729.7L355.1,738.6L339.1,747.5Z" fill="#000"/>
<text transform="translate(386.5,748.8) scale(1,1.02)" font-size="30">Third step-Monitor</text>
<line x1="310.3" y1="774.5" x2="379.4" y2="774.5" stroke="#111" stroke-width="1.25"/>
<path d="M340.0,766.1L353.9,774.5L340.0,782.9Z" fill="#fff" stroke="#000" stroke-width="1.4" stroke-linejoin="miter"/>
<text transform="translate(386.5,784.5) scale(1,1.02)" font-size="30">Third step-Prediction</text>
</svg></body></html>
